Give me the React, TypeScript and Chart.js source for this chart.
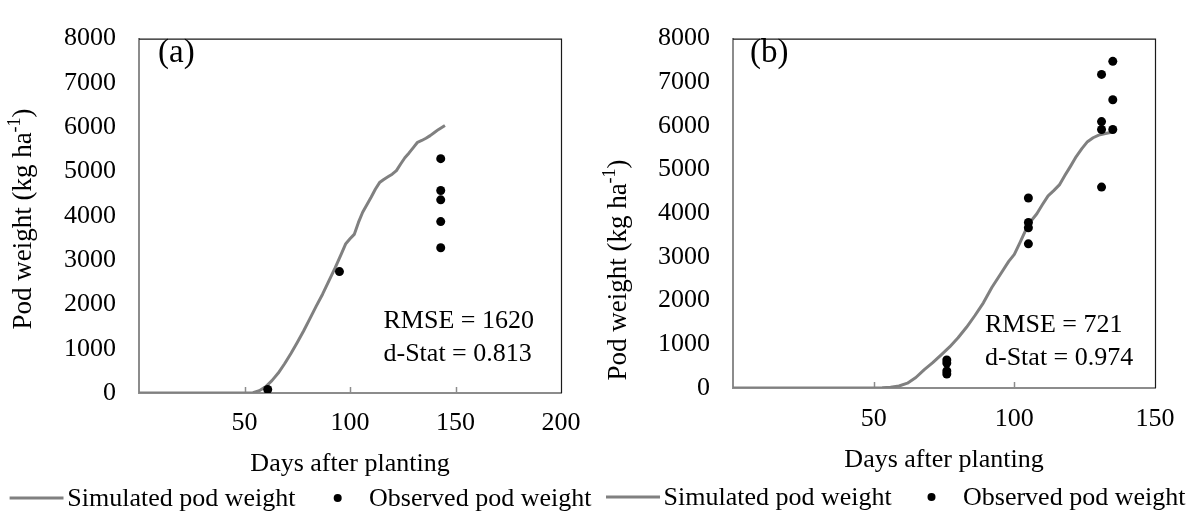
import React, { useEffect, useRef } from 'react';
import { Chart, registerables } from 'chart.js';

Chart.register(...registerables);

const FONT = '"Liberation Serif", "Times New Roman", Times, serif';

// ---------- Panel (a) data ----------
const simDaysA = [0, 10, 20, 30, 40, 50, 54, 57, 60, 63, 66, 69, 72, 75, 78, 81, 84, 87, 90, 93, 96, 98, 100, 102, 104, 106, 108, 110, 112, 114, 116, 118, 120, 122, 124, 126, 128, 130, 132, 134, 136, 138, 140, 142, 145];
const simPodA = [0, 0, 0, 0, 0, 0, 8, 50, 140, 280, 450, 660, 890, 1140, 1400, 1680, 1960, 2230, 2530, 2830, 3150, 3370, 3480, 3580, 3850, 4080, 4250, 4420, 4600, 4750, 4820, 4880, 4940, 5020, 5170, 5310, 5420, 5540, 5660, 5700, 5750, 5810, 5880, 5950, 6040];
const obsDaysA = [61, 95, 143, 143, 143, 143, 143];
const obsPodA = [80, 2740, 5290, 4570, 4360, 3870, 3280];
const statsA = ['RMSE = 1620', 'd-Stat = 0.813'];
const xTicksA = [50, 100, 150, 200];

// ---------- Panel (b) data ----------
const simDaysB = [0, 10, 20, 30, 40, 50, 53, 56, 59, 62, 65, 68, 71, 74, 77, 80, 83, 86, 89, 92, 95, 98, 100, 102, 104, 106, 108, 110, 112, 114, 116, 118, 120, 122, 124, 126, 128, 130, 132, 135];
const simPodB = [0, 0, 0, 0, 0, 0, 3, 15, 45, 110, 240, 420, 580, 760, 940, 1150, 1390, 1660, 1950, 2300, 2600, 2900, 3060, 3330, 3610, 3830, 3990, 4200, 4400, 4520, 4650, 4870, 5080, 5300, 5480, 5640, 5730, 5790, 5820, 5860];
const obsDaysB = [76, 76, 76, 76, 105, 105, 105, 105, 131, 131, 131, 131, 135, 135, 135];
const obsPodB = [640, 570, 390, 320, 4350, 3790, 3670, 3300, 7180, 6100, 5920, 4600, 7480, 6600, 5920];
const statsB = ['RMSE = 721', 'd-Stat = 0.974'];
const xTicksB = [50, 100, 150];

const yTicks = [0, 1000, 2000, 3000, 4000, 5000, 6000, 7000, 8000];
const seriesNames = ['Simulated pod weight', 'Observed pod weight'];
const xTitle = 'Days after planting';
const yTitleMain = 'Pod weight (kg ha';
const yTitleSup = '-1';
const yTitleEnd = ')';

const FS = 26;

const panelA = {
  key: 'a', tag: '(a)', canvasLeft: 0, canvasWidth: 600,
  simDays: simDaysA, simPod: simPodA, obsDays: obsDaysA, obsPod: obsPodA, stats: statsA, xTicks: xTicksA, xMax: 200,
  plotLeft: 139, plotRight: 561, plotTop: 19, plotBottom: 393, xTickPad: 15,
  yTitleX: 24, yTitleY: 219, xTitleBase: 471, tagX: 158, tagBase: 62,
  statsX: 383.5, statsBase: [328, 361],
  legY: 498, legBase: 506, legLine: [9.6, 63.5], legText1: 67.3, legDot: 337.7, legText2: 369,
};

const panelB = {
  key: 'b', tag: '(b)', canvasLeft: 600, canvasWidth: 602,
  simDays: simDaysB, simPod: simPodB, obsDays: obsDaysB, obsPod: obsPodB, stats: statsB, xTicks: xTicksB, xMax: 150,
  plotLeft: 133, plotRight: 555, plotTop: 25, plotBottom: 388, xTickPad: 16,
  yTitleX: 19, yTitleY: 270, xTitleBase: 467, tagX: 150, tagBase: 62,
  statsX: 385, statsBase: [331.5, 365],
  legY: 497, legBase: 505, legLine: [6, 60], legText1: 63.5, legDot: 331.5, legText2: 363,
};

function makeDecor(p: any) {
  return {
    id: 'decor_' + p.key,
    beforeDatasetsDraw(chart: any) {
      const { ctx, chartArea: a, scales } = chart;
      ctx.save();
      ctx.strokeStyle = '#8c8c8c';
      ctx.lineWidth = 1.5;
      for (const v of p.xTicks) {
        if (v >= p.xMax) continue;
        const x = Math.round(scales.x.getPixelForValue(v)) + 0.5;
        ctx.beginPath();
        ctx.moveTo(x, a.bottom);
        ctx.lineTo(x, a.bottom - 6);
        ctx.stroke();
      }
      ctx.restore();
    },
    afterDraw(chart: any) {
      const { ctx, chartArea: a } = chart;
      ctx.save();
      // top & right frame
      ctx.strokeStyle = '#1a1a1a';
      ctx.lineWidth = 1.2;
      ctx.beginPath();
      ctx.moveTo(a.left, a.top + 0.5);
      ctx.lineTo(a.right + 0.5, a.top + 0.5);
      ctx.lineTo(a.right + 0.5, a.bottom);
      ctx.stroke();

      ctx.fillStyle = '#000';
      // y title with superscript
      const TFS = 27;
      ctx.font = `${TFS}px ${FONT}`;
      const w1 = ctx.measureText(yTitleMain).width;
      const w3 = ctx.measureText(yTitleEnd).width;
      const supFont = `${Math.round(TFS * 0.65)}px ${FONT}`;
      ctx.font = supFont;
      const w2 = ctx.measureText(yTitleSup).width;
      const total = w1 + w2 + w3;
      ctx.save();
      ctx.translate(p.yTitleX, p.yTitleY);
      ctx.rotate(-Math.PI / 2);
      ctx.textAlign = 'left';
      ctx.textBaseline = 'middle';
      let x = -total / 2;
      ctx.font = `${TFS}px ${FONT}`;
      ctx.fillText(yTitleMain, x, 0);
      x += w1;
      ctx.font = supFont;
      ctx.fillText(yTitleSup, x, -TFS * 0.32);
      x += w2;
      ctx.font = `${TFS}px ${FONT}`;
      ctx.fillText(yTitleEnd, x, 0);
      ctx.restore();

      // x title
      ctx.font = `${FS}px ${FONT}`;
      ctx.textAlign = 'center';
      ctx.textBaseline = 'alphabetic';
      ctx.fillText(xTitle, (a.left + a.right) / 2, p.xTitleBase);

      // panel tag
      ctx.font = `33px ${FONT}`;
      ctx.textAlign = 'left';
      ctx.fillText(p.tag, p.tagX, p.tagBase);

      // stats
      ctx.font = `${FS}px ${FONT}`;
      ctx.fillText(p.stats[0], p.statsX, p.statsBase[0]);
      ctx.fillText(p.stats[1], p.statsX, p.statsBase[1]);

      // legend
      ctx.strokeStyle = '#808080';
      ctx.lineWidth = 3;
      ctx.beginPath();
      ctx.moveTo(p.legLine[0], p.legY);
      ctx.lineTo(p.legLine[1], p.legY);
      ctx.stroke();
      ctx.fillText(seriesNames[0], p.legText1, p.legBase);
      ctx.beginPath();
      ctx.arc(p.legDot, p.legY, 4, 0, Math.PI * 2);
      ctx.fill();
      ctx.fillText(seriesNames[1], p.legText2, p.legBase);
      ctx.restore();
    },
  };
}

function makeConfig(p: any) {
  const tickFont = { family: FONT, size: FS };
  return {
    type: 'scatter',
    data: {
      datasets: [
        {
          type: 'scatter',
          label: seriesNames[1],
          data: p.obsDays.map((d: number, i: number) => ({ x: d, y: p.obsPod[i] })),
          backgroundColor: '#000',
          borderColor: '#000',
          pointRadius: 4.5,
          pointHoverRadius: 4.5,
          borderWidth: 0,
          order: 1,
        },
        {
          type: 'line',
          label: seriesNames[0],
          data: p.simDays.map((d: number, i: number) => ({ x: d, y: p.simPod[i] })),
          borderColor: '#808080',
          backgroundColor: '#808080',
          borderWidth: 3,
          pointRadius: 0,
          tension: 0,
          fill: false,
          borderJoinStyle: 'round',
          order: 2,
        },
      ],
    },
    options: {
      animation: false,
      responsive: false,
      maintainAspectRatio: false,
      events: [],
      layout: { padding: { left: 0, right: p.canvasWidth - p.plotRight, top: p.plotTop, bottom: 0 } },
      plugins: { legend: { display: false }, tooltip: { enabled: false }, title: { display: false } },
      scales: {
        x: {
          type: 'linear',
          min: 0,
          max: p.xMax,
          afterBuildTicks: (s: any) => { s.ticks = p.xTicks.map((v: number) => ({ value: v })); },
          afterFit: (s: any) => { s.height = 515 - p.plotBottom; },
          ticks: { font: tickFont, color: '#000', padding: p.xTickPad, maxRotation: 0, autoSkip: false, callback: (v: any) => String(v) },
          grid: { display: false, drawTicks: false },
          border: { display: true, color: '#8c8c8c', width: 2 },
        },
        y: {
          type: 'linear',
          min: 0,
          max: 8000,
          afterBuildTicks: (s: any) => { s.ticks = yTicks.map((v) => ({ value: v })); },
          afterFit: (s: any) => { s.width = p.plotLeft; },
          ticks: { font: tickFont, color: '#000', padding: 23, autoSkip: false, callback: (v: any) => String(v) },
          grid: { display: false, drawTicks: false },
          border: { display: true, color: '#8c8c8c', width: 2 },
        },
      },
    },
    plugins: [makeDecor(p)],
  };
}

function Panel({ spec }: { spec: any }) {
  const ref = useRef<HTMLCanvasElement | null>(null);
  useEffect(() => {
    if (!ref.current) return;
    const chart = new Chart(ref.current, makeConfig(spec) as any);
    return () => chart.destroy();
  }, [spec]);
  return (
    <canvas
      ref={ref}
      width={spec.canvasWidth}
      height={515}
      style={{ position: 'absolute', left: spec.canvasLeft, top: 0, width: spec.canvasWidth, height: 515, display: 'block' }}
    />
  );
}

export default function App() {
  return (
    <div style={{ position: 'absolute', left: 0, top: 0, width: 1202, height: 515, background: '#fff', overflow: 'hidden' }}>
      <Panel spec={panelA} />
      <Panel spec={panelB} />
    </div>
  );
}
